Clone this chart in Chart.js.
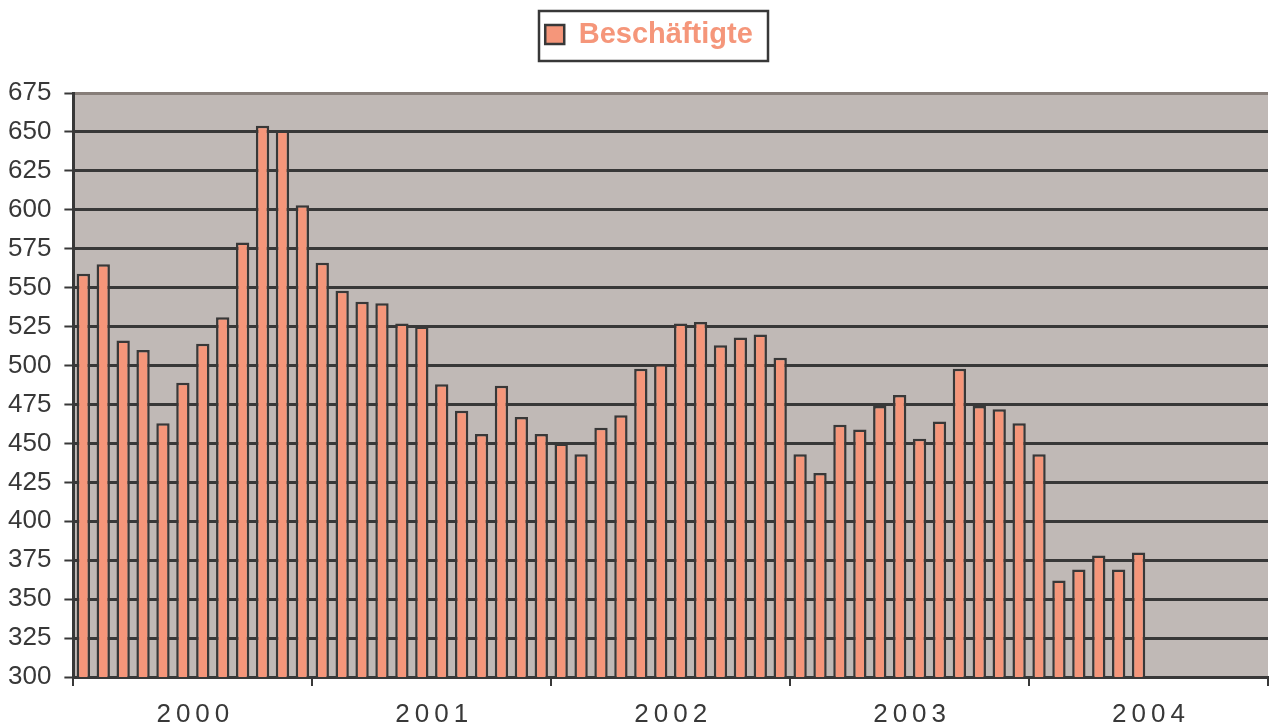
<!DOCTYPE html>
<html lang="de">
<head>
<meta charset="utf-8">
<title>Beschäftigte 2000–2004</title>
<script src="https://cdn.jsdelivr.net/npm/chart.js@4/dist/chart.umd.min.js"></script>
<style>
  html, body { margin: 0; padding: 0; background: #fff; }
  #wrap { width: 1269px; height: 728px; }
</style>
</head>
<body>
<div id="wrap"><canvas id="myChart" width="1269" height="728"></canvas></div>
<script>
// Daten
const jahre = ["2000", "2001", "2002", "2003", "2004"];
const monate = ["Jan", "Feb", "Mär", "Apr", "Mai", "Jun", "Jul", "Aug", "Sep", "Okt", "Nov", "Dez"];
const werte2000 = [559, 565, 516, 510, 463, 489, 514, 531, 579, 654, 651, 603];
const werte2001 = [566, 548, 541, 540, 527, 525, 488, 471, 456, 487, 467, 456];
const werte2002 = [450, 443, 460, 468, 498, 501, 527, 528, 513, 518, 520, 505];
const werte2003 = [443, 431, 462, 459, 474, 481, 453, 464, 498, 474, 472, 463];
const werte2004 = [443, 362, 369, 378, 369, 380, null, null, null, null, null, null];
const serienName = "Beschäftigte";
const yMin = 300;
const yMax = 675;
const yStep = 25;

const monatsLabels = jahre.flatMap((j) => monate.map((m) => m + " " + j));
const werte = [...werte2000, ...werte2001, ...werte2002, ...werte2003, ...werte2004];

const schrift = "'Liberation Sans', Arial, sans-serif";
const dunkel = "#383838";
const lachs = "#f5967a";
const flaeche = "#c0b9b6";
const jahrAbstand = 5;

// Kategorieachse mit gesperrter Schrift fuer die Jahre
class JahresAchse extends Chart.CategoryScale {
  drawLabels(chartArea) {
    const ctx = this.ctx;
    ctx.save();
    ctx.letterSpacing = jahrAbstand + "px";
    super.drawLabels(chartArea);
    ctx.restore();
  }
}
JahresAchse.id = "jahresachse";
JahresAchse.defaults = {};
Chart.register(JahresAchse);

// Chart.js rechnet das Tick-Padding doppelt ein
const einfachesPadding = (scale) => {
  if (scale.isHorizontal()) scale.height -= scale.options.ticks.padding;
  else scale.width -= scale.options.ticks.padding;
};

const plotHintergrund = {
  id: "plotHintergrund",
  beforeDraw(chart) {
    const { ctx, chartArea: a } = chart;
    ctx.save();
    ctx.fillStyle = flaeche;
    ctx.fillRect(a.left, a.top, a.right - a.left, a.bottom - a.top);
    ctx.restore();
  },
};

const legendenPadding = 54;
const legendenSchrift = 29;
const legendenRahmen = {
  id: "legendenRahmen",
  afterLayout(chart) {
    const lg = chart.legend;
    lg.left += 11;
    lg.right += 11;
    lg.top -= 34;
    lg.bottom -= 34;
  },
  afterDraw(chart) {
    const lg = chart.legend;
    const ctx = chart.ctx;
    ctx.save();
    ctx.font = "bold " + legendenSchrift + "px " + schrift;
    const textW = ctx.measureText(serienName).width;
    const itemW = 19 + legendenSchrift / 2 + textW;
    const cx = (lg.left + lg.right) / 2;
    const cy = lg.top + legendenPadding + legendenSchrift / 2;
    const x0 = cx - itemW / 2 - 6;
    const x1 = cx + itemW / 2 + 15;
    ctx.strokeStyle = dunkel;
    ctx.lineWidth = 2.5;
    ctx.strokeRect(Math.round(x0), Math.round(cy - 24), Math.round(x1 - x0), 50);
    ctx.restore();
  },
};

const ctx = document.getElementById("myChart").getContext("2d");
new Chart(ctx, {
  type: "bar",
  data: {
    labels: monatsLabels,
    datasets: [
      {
        label: serienName,
        data: werte,
        backgroundColor: lachs,
        borderColor: dunkel,
        borderWidth: 2.5,
        barPercentage: 0.67,
        categoryPercentage: 1,
        xAxisID: "x",
        yAxisID: "y",
      },
    ],
  },
  options: {
    responsive: false,
    animation: false,
    layout: { padding: { left: 8, right: 1, top: 0, bottom: 0 } },
    scales: {
      x: {
        type: "category",
        labels: monatsLabels,
        position: "bottom",
        weight: 0,
        offset: true,
        grid: {
          display: true,
          offset: true,
          drawOnChartArea: false,
          drawTicks: true,
          tickLength: 9,
          lineWidth: 2,
          color: (c) =>
            c.index === undefined || c.index % 12 === 0 ? dunkel : "rgba(0,0,0,0)",
        },
        border: { display: true, color: dunkel, width: 3 },
        ticks: { display: false },
      },
      jahr: {
        type: "jahresachse",
        axis: "x",
        labels: jahre,
        position: "bottom",
        weight: 1,
        offset: true,
        grid: { display: false, drawTicks: false },
        border: { display: false },
        ticks: {
          color: dunkel,
          font: { family: schrift, size: 26, lineHeight: 1 },
          padding: 16,
          autoSkip: false,
          maxRotation: 0,
          minRotation: 0,
          labelOffset: jahrAbstand / 2,
        },
        afterFit: einfachesPadding,
      },
      y: {
        min: yMin,
        max: yMax,
        ticks: {
          stepSize: yStep,
          color: dunkel,
          font: { family: schrift, size: 26 },
          padding: 13,
        },
        grid: {
          color: (c) => (c.tick && c.tick.value === yMax ? "#877e79" : dunkel),
          lineWidth: 3,
          tickLength: 9,
          tickColor: dunkel,
          tickWidth: 2,
        },
        border: { color: dunkel, width: 3 },
        afterFit: einfachesPadding,
      },
    },
    plugins: {
      tooltip: { enabled: false },
      legend: {
        display: true,
        position: "top",
        labels: {
          boxWidth: 19,
          boxHeight: 19,
          padding: legendenPadding,
          color: lachs,
          font: { family: schrift, size: legendenSchrift, weight: "bold" },
        },
      },
    },
  },
  plugins: [plotHintergrund, legendenRahmen],
});
</script>
</body>
</html>
